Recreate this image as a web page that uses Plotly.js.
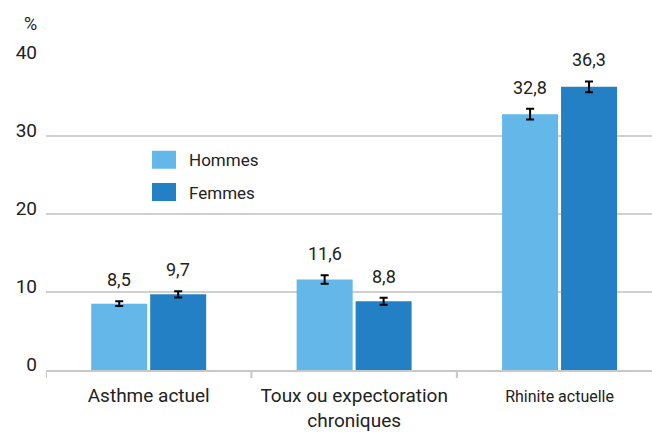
<!DOCTYPE html>
<html>
<head>
<meta charset="utf-8">
<script src="https://cdn.plot.ly/plotly-3.0.1.min.js"></script>
<style>
html,body{margin:0;padding:0;background:#fff;}
#chart{width:652px;height:432px;}
</style>
</head>
<body>
<div id="chart"></div>
<script>
const categories = ["Asthme actuel", "Toux ou expectoration<br>chroniques", "Rhinite actuelle"];
const categorySizes = [19, 19, 16];
const hommes = [8.5, 11.6, 32.8];
const femmes = [9.7, 8.8, 36.3];
const hommesErr = [0.3, 0.55, 0.7];
const femmesErr = [0.4, 0.45, 0.7];
const yTicks = [0, 10, 20, 30, 40];

const FONT = "Roboto, 'DejaVu Sans', sans-serif";
const colH = "#63B8E9";
const colF = "#2480C4";
const TXT = "#222";

const idx = categories.map((c, i) => i);

const traces = [
  {
    type: "bar", name: "Hommes", x: idx, y: hommes,
    marker: {color: colH}, legendgroup: "h",
    error_y: {type: "data", array: hommesErr, visible: true, color: "#000", thickness: 2, width: 4},
    hoverinfo: "none"
  },
  {
    type: "bar", name: "Femmes", x: idx, y: femmes,
    marker: {color: colF}, legendgroup: "f",
    error_y: {type: "data", array: femmesErr, visible: true, color: "#000", thickness: 2, width: 4},
    hoverinfo: "none"
  }
];

const bargap = 0.426;
const off = (1 - bargap) / 4;
const fmt = v => v.toFixed(1).replace(".", ",");
const annotations = [];
idx.forEach(i => {
  annotations.push({x: i - off, y: hommes[i] + hommesErr[i], xref: "x", yref: "y", text: fmt(hommes[i]),
    showarrow: false, yanchor: "bottom", yshift: 9, font: {family: FONT, size: 18, color: TXT}});
  annotations.push({x: i + off, y: femmes[i] + femmesErr[i], xref: "x", yref: "y", text: fmt(femmes[i]),
    showarrow: false, yanchor: "bottom", yshift: 9, font: {family: FONT, size: 18, color: TXT}});
});
annotations.push({x: -0.0264, y: 1.112, xref: "paper", yref: "paper", text: "%", showarrow: false,
  xanchor: "center", yanchor: "middle", font: {family: FONT, size: 18, color: TXT}});

const layout = {
  width: 652, height: 432,
  margin: {l: 46, r: 0, t: 58, b: 62, pad: 0},
  paper_bgcolor: "#fff", plot_bgcolor: "#fff",
  font: {family: FONT, size: 18, color: TXT},
  bargap: bargap, bargroupgap: 0.05,
  barmode: "group",
  showlegend: true,
  legend: {x: 0.17, y: 0.73, xanchor: "left", yanchor: "top", bgcolor: "rgba(0,0,0,0)",
    font: {family: FONT, size: 17, color: TXT}, tracegroupgap: 7, traceorder: "grouped"},
  xaxis: {
    type: "linear", range: [-0.5, 2.45],
    tickmode: "array", tickvals: idx,
    ticktext: categories.map((c, i) => `<span style="font-size:${categorySizes[i]}px">${c}</span>`),
    showgrid: false, zeroline: false, showline: true, linecolor: "#C8C8C8", linewidth: 2,
    ticks: "", ticklabelstandoff: 7, tickfont: {family: FONT, size: 19, color: TXT}
  },
  yaxis: {
    range: [0, 40], tickmode: "array", tickvals: yTicks, ticktext: yTicks.map(String),
    showgrid: true, gridcolor: "#D0D0D0", gridwidth: 2, zeroline: false, showline: false,
    ticks: "", ticklabelstandoff: 8, ticklabelshift: -6, tickfont: {family: FONT, size: 19, color: TXT}
  },
  annotations: annotations,
  shapes: [-0.5, 0.5, 1.5].map(b => ({type: "line", xref: "x", yref: "paper", x0: b, x1: b,
    y0: 0, y1: -0.026, line: {color: "#C8C8C8", width: 2}}))
};

Plotly.newPlot("chart", traces, layout, {displayModeBar: false, staticPlot: true}).then(gd => {
  gd.querySelectorAll(".legend .legendpoints path").forEach(p => {
    p.setAttribute("d", "M7,9H-17V-9H7Z");
  });
});
</script>
</body>
</html>
